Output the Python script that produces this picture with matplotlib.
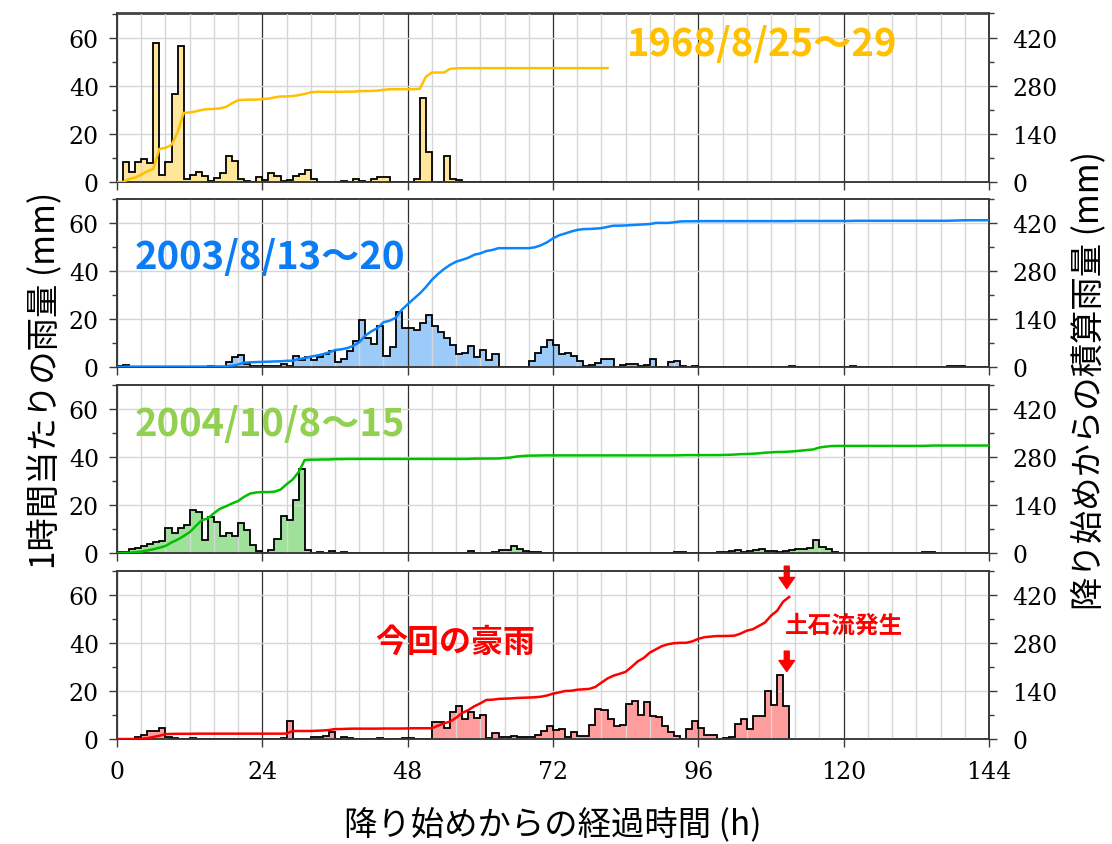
import numpy as np
import matplotlib
matplotlib.use("Agg")
import matplotlib.pyplot as plt
from matplotlib.ticker import MultipleLocator

# Hourly rainfall (mm) for each event, one value per hour from the onset of rain
rain_1968 = [
    0, 8.5, 4.3, 8.5, 9.4, 8.0, 57.6, 3.0, 8.5, 36.5, 56.7, 1.3,
    3.0, 4.3, 2.5, 0.4, 1.8, 3.9, 10.8, 8.9, 1.3, 0.3, 0, 1.9,
    0.8, 3.9, 2.5, 0.3, 1.0, 2.7, 3.3, 5.0, 1.4, 0, 0, 0,
    0, 0.5, 0, 1.4, 0.5, 0, 1.1, 2.0, 2.0, 0, 0, 0,
    0, 1.1, 35.0, 12.5, 0, 0, 10.6, 1.4, 0.7, 0, 0, 0,
    0, 0, 0, 0, 0, 0, 0, 0, 0, 0, 0, 0,
    0, 0, 0, 0, 0, 0, 0, 0, 0,
]

rain_2003 = [
    0.4, 0.8, 0, 0, 0, 0, 0, 0, 0, 0, 0, 0,
    0, 0, 0, 0.4, 0, 0, 1.9, 4.0, 4.9, 1.3, 0.6, 0.6,
    0.6, 0.6, 0.6, 1.2, 0.4, 4.6, 3.0, 4.3, 3.0, 4.0, 5.3, 6.7,
    2.2, 3.2, 6.8, 10.6, 19.4, 12.1, 9.7, 16.9, 4.4, 8.5, 23.0, 16.3,
    16.1, 15.4, 18.3, 21.4, 16.9, 14.4, 12.1, 9.3, 5.4, 6.0, 8.8, 4.0,
    6.9, 3.0, 5.3, 0, 0, 0, 0, 0, 2.4, 6.0, 8.5, 11.4,
    9.0, 5.3, 5.8, 4.6, 2.4, 0.4, 1.0, 1.5, 3.5, 3.5, 0.1, 0.7,
    1.1, 1.4, 0.5, 1.0, 3.3, 0, 0, 1.9, 2.4, 0.4, 0, 0.5,
    0, 0, 0, 0, 0, 0, 0, 0, 0, 0, 0, 0,
    0, 0, 0, 0.5, 0, 0, 0, 0, 0, 0, 0, 0,
    0, 0.5, 0, 0, 0, 0, 0, 0, 0, 0, 0, 0,
    0, 0, 0, 0, 0, 0.5, 0.5, 0.5, 0, 0, 0, 0,
]

rain_2004 = [
    0.3, 0.5, 1.5, 2.0, 3.0, 3.6, 4.4, 5.1, 10.2, 8.2, 10.4, 11.5,
    17.7, 16.9, 5.3, 15.0, 13.0, 7.1, 8.4, 7.1, 12.3, 9.4, 3.2, 1.0,
    0, 1.2, 6.0, 15.5, 13.7, 22.0, 34.9, 1.1, 0, 0.5, 0, 1.0,
    0, 0.5, 0, 0, 0, 0, 0, 0, 0, 0, 0, 0,
    0, 0, 0, 0, 0, 0, 0, 0, 0, 0, 1.0, 0,
    0, 0, 0.3, 1.4, 1.4, 3.0, 1.5, 1.0, 0.3, 0.5, 0, 0,
    0, 0, 0, 0, 0, 0, 0, 0, 0, 0, 0, 0,
    0, 0, 0, 0, 0, 0, 0, 0, 0.4, 0.4, 0, 0,
    0, 0, 0, 0.4, 0.4, 0.8, 1.2, 0.4, 0.8, 1.2, 1.8, 1.0,
    1.0, 0.3, 0.8, 1.2, 1.8, 1.5, 2.0, 5.4, 2.5, 1.8, 0.5, 0,
    0, 0, 0, 0, 0, 0, 0, 0, 0, 0, 0, 0,
    0, 0.5, 0.5, 0, 0, 0, 0, 0, 0, 0, 0, 0,
]

rain_now = [
    0, 0, 0, 0.7, 1.7, 3.5, 3.5, 4.7, 0.7, 0.3, 0, 0,
    0.4, 0, 0, 0, 0, 0, 0, 0, 0, 0, 0, 0,
    0, 0, 0, 0.4, 7.4, 0, 0, 0, 0.7, 0.7, 1.4, 2.8,
    0, 0.8, 0.4, 0, 0, 0, 0, 0.4, 0, 0, 0, 0.4,
    0.4, 0, 0, 0, 7.2, 7.2, 4.7, 11.4, 13.9, 8.3, 11.1, 8.6,
    9.9, 0.6, 2.4, 0.7, 0.7, 1.2, 0.7, 0.7, 0.7, 1.7, 3.5, 5.3,
    3.6, 4.2, 0.7, 3.0, 1.2, 1.2, 5.8, 12.5, 12.0, 8.3, 5.3, 5.7,
    14.7, 15.8, 10.1, 15.4, 9.6, 9.2, 5.5, 3.0, 1.1, 0, 4.2, 7.4,
    4.7, 1.7, 1.7, 0, 0.4, 0.8, 6.1, 8.3, 4.2, 9.7, 9.7, 20.0,
    14.2, 26.5, 13.7,
]

event_titles = ["1968/8/25～29", "2003/8/13～20", "2004/10/8～15", "今回の豪雨"]
bar_colors = ["#FFE699", "#9CCBFA", "#9FE09A", "#FF9C9C"]
line_colors = ["#FFC000", "#0A84FF", "#00C000", "#FF0000"]
title_colors = ["#FFC000", "#0A7CF5", "#92D050", "#FF0000"]
# title anchor (hour, mm) and font size
title_pos = [(84.2, 57.5), (3.0, 46.0), (3.0, 54.0), (42.6, 40.5)]
title_size = [27.5, 27.5, 27.5, 23]

hour_ticks = [0, 24, 48, 72, 96, 120, 144]
rain_ticks = [0, 20, 40, 60]
total_ticks = [0, 140, 280, 420]

CJK = ["Noto Sans CJK JP", "DejaVu Sans"]
plt.rcParams["font.family"] = ["DejaVu Serif"]

fig = plt.figure(figsize=(11.12, 8.45), dpi=100)
L, W, H = 117 / 1112, 872 / 1112, 168.5 / 845
bottoms = [(845 - 183) / 845, (845 - 368) / 845, (845 - 554) / 845, (845 - 740) / 845]
spine_c = "#3a3a3a"
tick_fs = 17

series = [rain_1968, rain_2003, rain_2004, rain_now]
axes = []
twins = []
for i, rain in enumerate(series):
    ax = fig.add_axes([L, bottoms[i], W, H])
    axes.append(ax)
    rain = np.asarray(rain, dtype=float)
    edges = np.arange(len(rain) + 1)

    ax.stairs(rain, edges, fill=True, facecolor=bar_colors[i], edgecolor="none",
              zorder=1)
    ax.stairs(rain, edges, baseline=0, color="black", lw=1.3, zorder=3)

    ax.set_xlim(0, 144)
    ax.set_ylim(0, 70)
    ax.set_xticks(hour_ticks)
    ax.xaxis.set_minor_locator(MultipleLocator(4))
    ax.set_yticks(rain_ticks)
    ax.yaxis.set_minor_locator(MultipleLocator(10))

    ax.grid(which="minor", axis="x", color="#d6d6d6", lw=1.0)
    ax.grid(which="major", axis="x", color="#303030", lw=0.9)
    ax.grid(which="major", axis="y", color="#d6d6d6", lw=1.0)
    for gl in ax.get_xgridlines() + ax.get_ygridlines():
        gl.set_zorder(2)
    for gl in ax.xaxis.get_minorticklines():
        gl.set_zorder(2)
    ax.set_axisbelow(False)

    ax.tick_params(axis="y", which="major", direction="out", length=6,
                   width=1.0, color=spine_c, labelsize=tick_fs, pad=7)
    ax.tick_params(axis="y", which="minor", direction="out", length=3.5,
                   width=1.0, color=spine_c)
    ax.tick_params(axis="x", which="major", direction="out", length=6,
                   width=1.0, color=spine_c, labelsize=tick_fs, pad=9)
    ax.tick_params(axis="x", which="minor", length=0)
    if i < 3:
        ax.tick_params(axis="x", labelbottom=False)
    for sp in ax.spines.values():
        sp.set_color(spine_c)
        sp.set_linewidth(1.2)

    tw = ax.twinx()
    twins.append(tw)
    cum = np.concatenate([[0.0], np.cumsum(rain)])
    tw.plot(edges, cum, color=line_colors[i], lw=1.8, zorder=4,
            solid_joinstyle="round")
    tw.set_ylim(0, 490)
    tw.set_yticks(total_ticks)
    tw.yaxis.set_minor_locator(MultipleLocator(70))
    tw.tick_params(axis="y", which="major", direction="out", length=6, width=1.0,
                   color=spine_c, labelsize=tick_fs, pad=11)
    tw.tick_params(axis="y", which="minor", direction="out", length=3.5,
                   width=1.0, color=spine_c)
    for sp in tw.spines.values():
        sp.set_color(spine_c)
        sp.set_linewidth(1.2)

    tx, ty = title_pos[i]
    ax.text(tx, ty, event_titles[i], color=title_colors[i], fontsize=title_size[i],
            fontweight="bold", family=CJK, ha="left", va="center", zorder=6)

# debris-flow markers on the latest event
ax4 = axes[3]
ax4.text(110.3, 47.5, "土石流発生", color="red", fontsize=17, fontweight="bold",
         family=CJK, ha="left", va="center", zorder=6)
arrow_kw = dict(arrowstyle="simple,head_length=0.5,head_width=0.7,tail_width=0.22",
                color="red", mutation_scale=16, shrinkA=0, shrinkB=0)
ax4.annotate("", xy=(110.6, 62.5), xytext=(110.6, 71.8), arrowprops=arrow_kw,
             annotation_clip=False, zorder=7)
ax4.annotate("", xy=(110.6, 28.0), xytext=(110.6, 36.5), arrowprops=arrow_kw,
             annotation_clip=False, zorder=7)

fig.text(0.040, 0.550, "1時間当たりの雨量 (mm)", rotation=90, ha="center",
         va="center", fontsize=24, family=CJK)
fig.text(0.980, 0.550, "降り始めからの積算雨量 (mm)", rotation=90, ha="center",
         va="center", fontsize=24, family=CJK)
fig.text(0.497, 0.024, "降り始めからの経過時間 (h)", ha="center", va="center",
         fontsize=24, family=CJK)

fig.savefig("out.png", dpi=100)
